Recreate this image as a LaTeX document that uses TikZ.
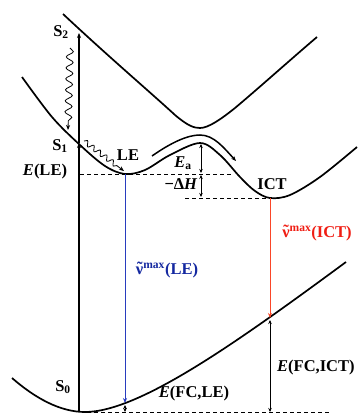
\documentclass[tikz,border=0pt]{standalone}
\usepackage{fontspec}
\setmainfont{Liberation Serif}
\usetikzlibrary{arrows.meta,decorations.pathmorphing}
\definecolor{lineblue}{RGB}{40,60,190}
\definecolor{txtblue}{RGB}{20,40,160}
\definecolor{linered}{RGB}{250,70,40}
\definecolor{txtred}{RGB}{240,30,20}
\newcommand{\nutil}{\makebox[0pt][l]{\raisebox{0.08em}{\hspace{0.07em}\char"02DC}}ν}
\begin{document}
\begin{tikzpicture}[x=1pt,y=-1pt,
  curve/.style={line width=1.7pt},
  lbl/.style={font=\fontsize{16.5}{17}\selectfont\bfseries, inner sep=0pt},
  tipA/.style={-{Stealth[length=5pt,width=4pt]}},
  tipB/.style={{Stealth[length=4pt,width=3.5pt]}-{Stealth[length=4pt,width=3.5pt]}},
  dashln/.style={line width=0.8pt, dash pattern=on 4pt off 3pt},
  wavy/.style={decorate, decoration={snake, amplitude=3.5pt, segment length=11pt, post length=4pt}, line width=0.8pt},
  wavys/.style={decorate, decoration={snake, amplitude=2.5pt, segment length=8pt, post length=5pt}, line width=0.8pt}
]
\useasboundingbox (0,0) rectangle (361,415);
\fill[white] (0,0) rectangle (361,415);

% potential curves
\draw[curve] (63,14) .. controls (110,58) and (150,92) .. (175,115) .. controls (188,126) and (194,128) .. (200,128) .. controls (208,128) and (220,120) .. (235,108) .. controls (260,87) and (290,60) .. (317,37);
\draw[curve] plot[smooth, tension=0.55] coordinates {(22,77) (52,117) (80,145) (105,166) (125,174) (145,170) (170,155) (200,143) (220,155) (240,177) (255,191) (270,198) (290,195) (320,177) (357,147)};
\draw[curve] (12,378) .. controls (35,398) and (60,412) .. (85,412) .. controls (140,412) and (240,340) .. (346,262);

% key points
\coordinate (s0b) at (79,411);
\coordinate (s1p) at (79,143);
\coordinate (s2p) at (79,33);
\coordinate (leMin) at (125,174);
\coordinate (leS0) at (125,403);
\coordinate (leS0b) at (125,405);
\coordinate (leBase) at (125,412);
\coordinate (ictMin) at (270,198);
\coordinate (ictS0) at (270,318);
\coordinate (ictS0b) at (270,320);
\coordinate (ictBase) at (270,412);
\coordinate (barTop) at (201,144);
\coordinate (barLE) at (201,173);
\coordinate (barLE2) at (201,175);
\coordinate (barICT) at (201,197);
\coordinate (dLEa) at (80,174);
\coordinate (dLEb) at (233,174);
\coordinate (dICTa) at (185,198);
\coordinate (dBa) at (87,412);
\coordinate (dBb) at (330,412);
\coordinate (w1a) at (70,48);
\coordinate (w1b) at (68,130);
\coordinate (w2a) at (84,141);
\coordinate (w2b) at (124,171);
\coordinate (arcA) at (152,156);
\coordinate (arcB) at (236,161);

% absorption
\draw[line width=1.7pt, tipA] (s0b) -- (s1p);
\draw[line width=1.7pt, tipA] (s1p) -- (s2p);

% dashed levels
\draw[dashln] (dLEa) -- (dLEb);
\draw[dashln] (dICTa) -- (ictMin);
\draw[dashln] (dBa) -- (dBb);

% emission arrows
\draw[lineblue, line width=0.9pt, tipA] (leMin) -- (leS0);
\draw[linered, line width=0.9pt, tipA] (ictMin) -- (ictS0);
\draw[line width=0.8pt, tipB] (leS0b) -- (leBase);
\draw[line width=0.8pt, tipB] (ictS0b) -- (ictBase);

% barrier arrows
\draw[line width=0.8pt, tipB] (barTop) -- (barLE);
\draw[line width=0.8pt, tipB] (barLE2) -- (barICT);

% wavy relaxations
\draw[wavy, tipA] (w1a) -- (w1b);
\draw[wavys, tipA] (w2a) -- (w2b);

% transfer arrow
\draw[line width=1.5pt, tipA] (arcA) .. controls (172,142) and (188,135) .. (200,135) .. controls (214,135) and (224,148) .. (arcB);

% labels
\node[lbl] (S2) at (61,32) {S\textsubscript{2}};
\node[lbl] (S1) at (60,146) {S\textsubscript{1}};
\node[lbl] (S0) at (63,387) {S\textsubscript{0}};
\node[lbl] (ELE) at (45,172) {\textit{E}(LE)};
\node[lbl] (LE) at (128,155) {LE};
\node[lbl] (Ea) at (183,163) {\textit{E}\textsubscript{a}};
\node[lbl] (dH) at (181,184) {−Δ\textit{H}};
\node[lbl] (ICT) at (272,184) {ICT};
\node[lbl, txtblue] (nuLE) at (167,270) {\nutil\textsuperscript{max}(LE)};
\node[lbl, txtred] (nuICT) at (317,233) {\nutil\textsuperscript{max}(ICT)};
\node[lbl] (EFCLE) at (194,394) {\textit{E}(FC,LE)};
\node[lbl, anchor=west] (EFCICT) at (277,368) {\textit{E}(FC,ICT)};
\end{tikzpicture}
\end{document}
